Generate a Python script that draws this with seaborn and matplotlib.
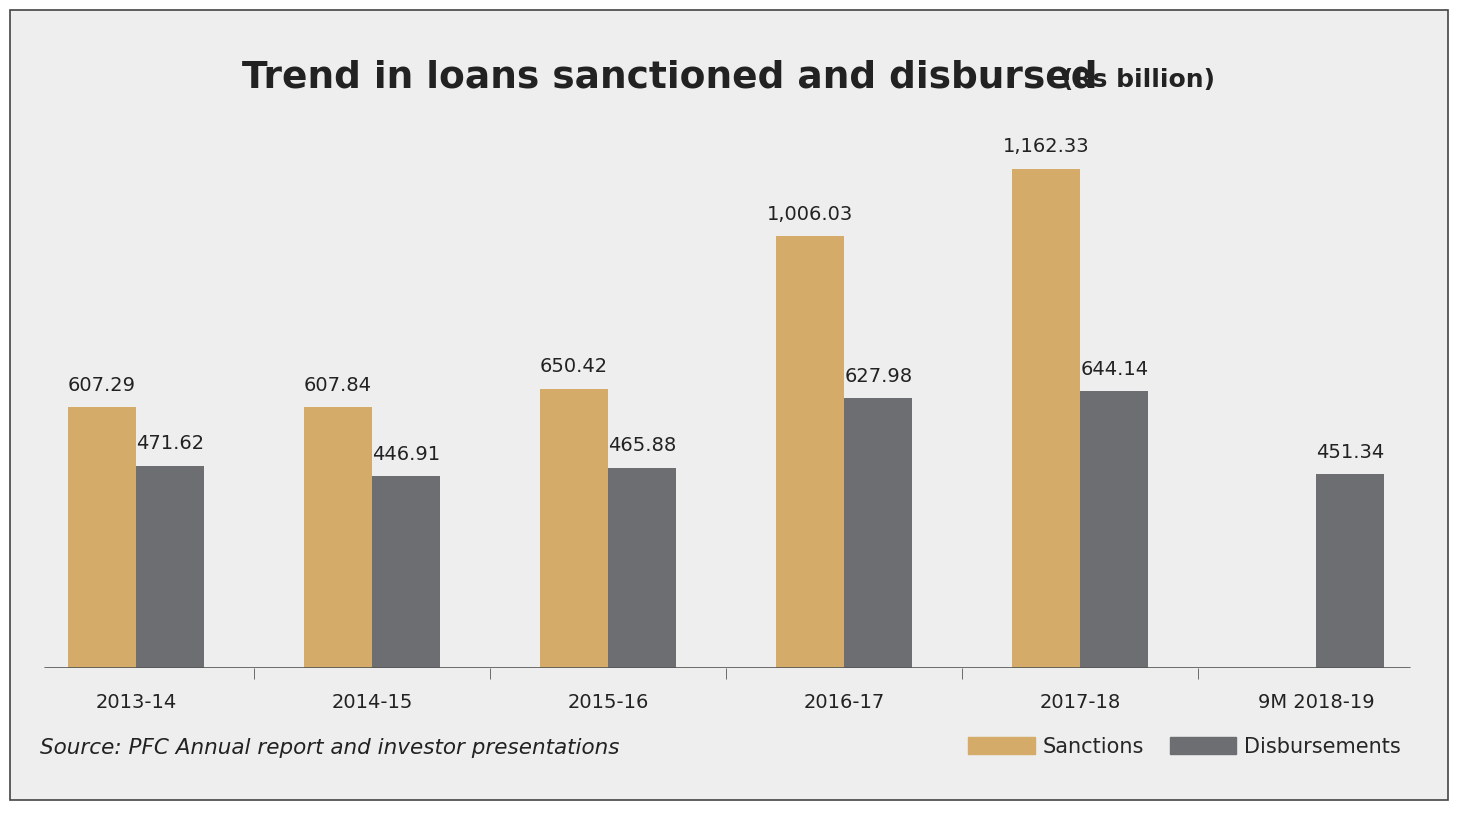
import pandas as pd
import matplotlib.pyplot as plt
import seaborn as sns
from matplotlib.patches import Rectangle

# values (Rs billion)
years = ['2013-14', '2014-15', '2015-16', '2016-17', '2017-18', '9M 2018-19']
sanctions = [607.29, 607.84, 650.42, 1006.03, 1162.33, None]
disbursements = [471.62, 446.91, 465.88, 627.98, 644.14, 451.34]

df = pd.DataFrame({'year': years * 2,
                   'value': sanctions + disbursements,
                   'kind': ['Sanctions'] * 6 + ['Disbursements'] * 6})

sns.set_style('white')
plt.rcParams['font.family'] = ['DejaVu Sans']

fig = plt.figure(figsize=(14.63, 8.14), dpi=100)
fig.patch.set_facecolor('white')
fig.patches.append(Rectangle((10 / 1463, 1 - 800 / 814), 1438 / 1463, 790 / 814,
                             transform=fig.transFigure, facecolor='#eeeeee',
                             edgecolor='#444444', linewidth=1.2, zorder=-1))

# axes placed in pixel terms: left 18, right 1434, baseline y=668, top y=130
ax = fig.add_axes([18 / 1463, 1 - 668 / 814, 1416 / 1463, 538 / 814])
ax.set_facecolor('none')
sns.barplot(data=df, x='year', y='value', hue='kind', ax=ax, width=0.58,
            palette={'Sanctions': '#d4ab69', 'Disbursements': '#6d6e71'},
            saturation=1, legend=False, edgecolor='none', linewidth=0)

for cont in ax.containers:
    labels = ['' if pd.isna(v) else f'{v:,.2f}' for v in cont.datavalues]
    ax.bar_label(cont, labels=labels, padding=9, fontsize=14, color='#222222')

ax.set_xlim(-0.5, 5.5)
ax.set_ylim(0, 1253)
for s in ax.spines.values():
    s.set_visible(False)
ax.axhline(0, xmin=27 / 1416, xmax=1392 / 1416, color='#555555', linewidth=1.2)
ax.set_yticks([])
ax.set_xticks([0.5, 1.5, 2.5, 3.5, 4.5], minor=True)
ax.tick_params(axis='x', which='minor', length=8, color='#555555', direction='out', bottom=True)
ax.tick_params(axis='x', which='major', length=0, labelsize=14, pad=18, labelcolor='#222222')
ax.set_xlabel('')
ax.set_ylabel('')

fig.text(242 / 1463, 1 - 78 / 814, 'Trend in loans sanctioned and disbursed', fontsize=27,
         fontweight='bold', va='center', ha='left', color='#222222')
fig.text(1215 / 1463, 1 - 80 / 814, '(Rs billion)', fontsize=18,
         fontweight='bold', va='center', ha='right', color='#222222')
fig.text(40 / 1463, 1 - 748 / 814, 'Source: PFC Annual report and investor presentations',
         fontsize=15.5, style='italic', va='center', color='#222222')

handles = [Rectangle((0, 0), 1, 1, color='#d4ab69'), Rectangle((0, 0), 1, 1, color='#6d6e71')]
fig.legend(handles, ['Sanctions', 'Disbursements'], loc='center right',
           bbox_to_anchor=(1420 / 1463, 1 - 747 / 814), ncol=2, frameon=False,
           fontsize=15, handlelength=3.2, handleheight=0.9, columnspacing=1.2,
           handletextpad=0.4)

fig.savefig('out.png', dpi=100)
